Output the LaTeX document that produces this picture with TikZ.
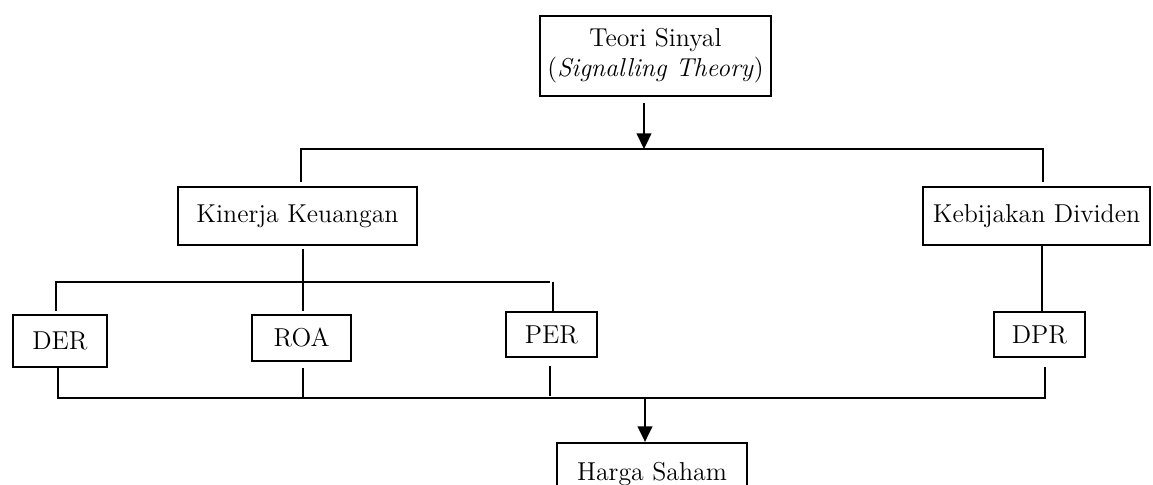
\documentclass[tikz,border=0pt]{standalone}
\usepackage{tikz}
\usetikzlibrary{arrows.meta,positioning,calc}

\begin{document}
\begin{tikzpicture}[x=0.483pt,y=-0.483pt,
    box/.style={draw, line width=1pt, rectangle, inner sep=0pt, align=center,
        font=\fontsize{12.5}{14.5}\selectfont},
    link/.style={line width=1.15pt},
    arr/.style={-{Triangle[length=7.5pt,width=7pt]}, line width=1.15pt}]
    \clip (0,0) rectangle (1153,484);

    % Theory at the top
    \node[box, minimum width=111.6pt, minimum height=38.6pt] (teori) at (655.5,56) {Teori Sinyal\\(\textit{Signalling Theory})};
    \coordinate (tbus) at (644,149);
    \coordinate (tl) at (301,149);
    \coordinate (tr) at (1043,149);
    \draw[arr] (tbus |- teori.south) ++(0,6) -- (tbus);
    \draw[link] (tl) ++(0,33) -- (tl) -- (tr) -- ++(0,33);

    % Variables
    \node[box, minimum width=115.4pt, minimum height=28pt] (kinerja) at (297.5,216) {Kinerja Keuangan};
    \node[box, minimum width=109.6pt, minimum height=28pt] (kebijakan) at (1036.5,216) {Kebijakan Dividen};

    % Indicators
    \node[box, minimum width=45.4pt, minimum height=25.1pt] (der) at (60,341) {DER};
    \node[box, minimum width=47.8pt, minimum height=22.2pt] (roa) at (301.5,338) {ROA};
    \node[box, minimum width=44pt, minimum height=21.7pt] (per) at (551.5,334.5) {PER};
    \node[box, minimum width=44pt, minimum height=21.7pt] (dpr) at (1039.5,334.5) {DPR};

    % Kinerja branches
    \coordinate (kbus) at (303,282);
    \draw[link] (kbus |- kinerja.south) ++(0,3) -- (kbus);
    \draw[link] (56,311) -- (56,282) -- (550,282);
    \draw[link] (303,282) -- (303,311);
    \draw[link] (553,282) -- (per.north -| 553,0);
    \draw[link] (kebijakan.south -| 1042,0) -- (dpr.north -| 1042,0);

    % Bottom bus
    \coordinate (bl) at (58,398);
    \coordinate (br) at (1045,398);
    \coordinate (hbus) at (645,398);
    \draw[link] (58,367) -- (bl) -- (br) -- (1045,367);
    \draw[link] (303,368) -- (303,398);
    \draw[link] (550,366) -- (550,396);

    % Stock price
    \node[box, minimum width=91.8pt, minimum height=30pt] (harga) at (652,474) {Harga Saham};
    \draw[arr] (hbus) -- (hbus |- harga.north);
\end{tikzpicture}
\end{document}
